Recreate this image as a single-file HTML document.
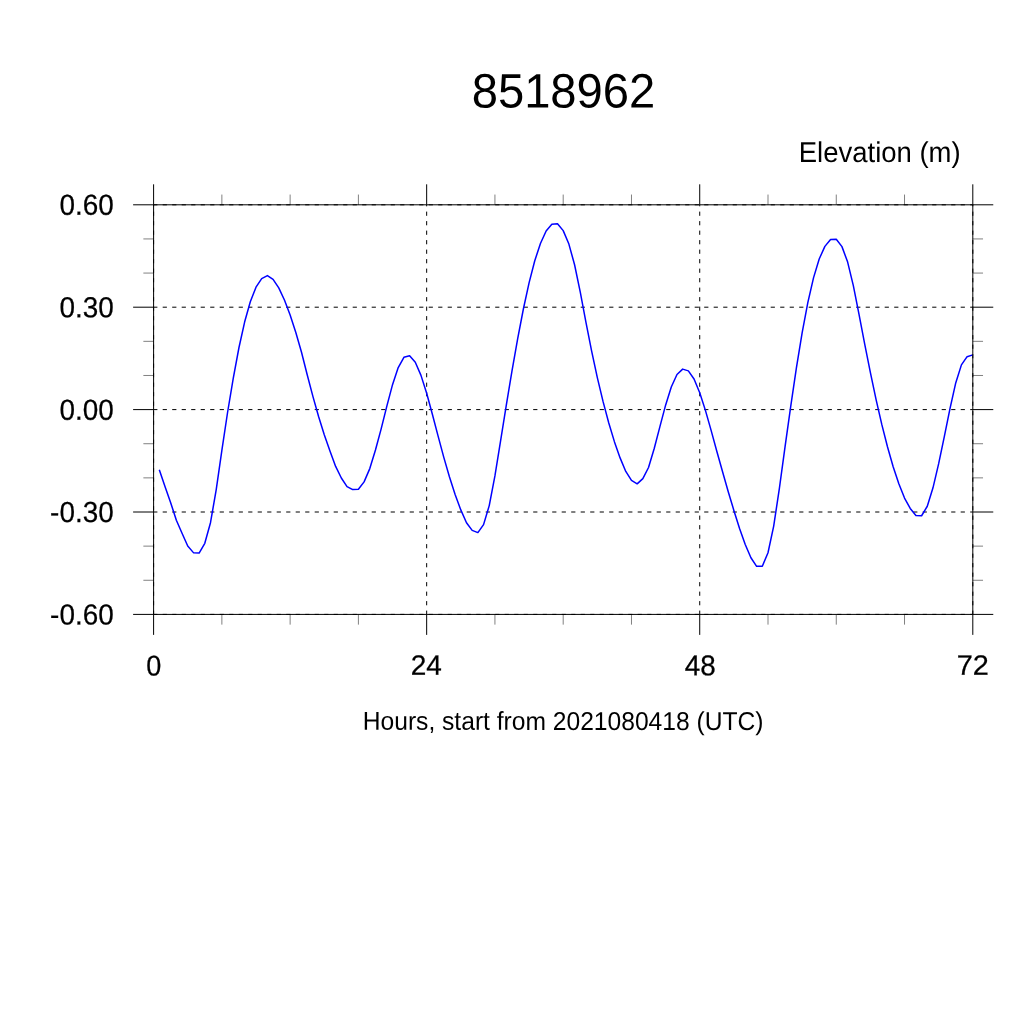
<!DOCTYPE html>
<html><head><meta charset="utf-8"><title>8518962</title>
<style>svg{will-change:transform;}html,body{margin:0;padding:0;background:#fff;width:1024px;height:1024px;overflow:hidden;}svg{display:block;position:absolute;left:0;top:0;}text{font-family:"Liberation Sans",sans-serif;fill:#000;text-rendering:geometricPrecision;}</style>
</head><body>
<svg width="1024" height="1024" viewBox="0 0 1024 1024">
<rect x="0" y="0" width="1024" height="1024" fill="#ffffff"/>
<path d="M153.60 204.80H972.80M153.60 307.20H972.80M153.60 409.60H972.80M153.60 512.00H972.80M153.60 614.40H972.80M153.60 614.40V204.80M426.67 614.40V204.80M699.73 614.40V204.80M972.80 614.40V204.80" fill="none" stroke="#000" stroke-width="1.0" stroke-dasharray="4.2 5.3" stroke-dashoffset="0.4"/>
<path d="M159.29 469.68L164.98 486.50L170.67 502.70L176.36 520.20L182.04 533.27L187.73 546.06L193.42 552.63L199.11 553.10L204.80 543.26L210.49 522.71L216.18 489.87L221.87 450.38L227.56 412.51L233.24 378.30L238.93 347.74L244.62 322.07L250.31 301.76L256.00 287.21L261.69 278.60L267.38 275.59L273.07 279.38L278.76 287.89L284.44 300.05L290.13 315.04L295.82 332.43L301.51 352.27L307.20 374.72L312.89 396.35L318.58 416.52L324.27 434.76L329.96 451.08L335.64 466.40L341.33 478.02L347.02 486.60L352.71 489.59L358.40 489.30L364.09 481.88L369.78 468.58L375.47 449.97L381.16 428.91L386.84 406.09L392.53 384.64L398.22 367.53L403.91 357.30L409.60 355.81L415.29 362.28L420.98 375.39L426.67 393.28L432.36 414.18L438.04 435.85L443.73 457.12L449.42 476.75L455.11 494.49L460.80 509.93L466.49 522.71L472.18 530.42L477.87 532.58L483.56 524.59L489.24 505.61L494.93 475.91L500.62 440.74L506.31 405.06L512.00 370.88L517.69 338.70L523.38 309.01L529.07 282.93L534.76 260.76L540.44 243.45L546.13 230.94L551.82 224.27L557.51 223.73L563.20 230.61L568.89 244.08L574.58 264.73L580.27 292.08L585.96 322.35L591.64 351.20L597.33 377.61L603.02 401.43L608.71 422.70L614.40 441.63L620.09 457.91L625.78 471.42L631.47 480.43L637.16 483.83L642.84 478.62L648.53 467.53L654.22 448.54L659.91 426.59L665.60 405.16L671.29 387.04L676.98 374.56L682.67 369.10L688.36 370.85L694.04 379.00L699.73 392.82L705.42 410.36L711.11 430.35L716.80 451.22L722.49 471.45L728.18 491.46L733.87 510.42L739.56 528.50L745.24 544.42L750.93 557.77L756.62 566.36L762.31 566.27L768.00 552.75L773.69 526.04L779.38 488.44L785.07 446.68L790.76 406.04L796.44 367.71L802.13 332.83L807.82 302.59L813.51 277.87L819.20 259.01L824.89 246.39L830.58 239.43L836.27 239.31L841.96 246.62L847.64 262.09L853.33 285.67L859.02 314.34L864.71 344.07L870.40 372.71L876.09 399.57L881.78 424.42L887.47 446.79L893.16 466.71L898.84 483.75L904.53 498.08L910.22 508.41L915.91 515.43L921.60 515.76L927.29 506.26L932.98 487.82L938.67 463.68L944.36 436.47L950.04 408.41L955.73 382.94L961.42 364.89L967.11 356.68L972.80 354.85" fill="none" stroke="#0000ff" stroke-width="1.5" stroke-linejoin="round"/>
<rect x="153.6" y="204.8" width="819.20" height="409.60" fill="none" stroke="#000" stroke-width="1.0"/>
<path d="M153.60 614.40v20.48M153.60 204.80v-20.48M153.60 204.80h-20.48M972.80 204.80h20.48M153.60 307.20h-20.48M972.80 307.20h20.48M426.67 614.40v20.48M426.67 204.80v-20.48M153.60 409.60h-20.48M972.80 409.60h20.48M699.73 614.40v20.48M699.73 204.80v-20.48M153.60 512.00h-20.48M972.80 512.00h20.48M972.80 614.40v20.48M972.80 204.80v-20.48M153.60 614.40h-20.48M972.80 614.40h20.48" fill="none" stroke="#000" stroke-width="1.0"/>
<path d="M221.87 614.40v10.24M221.87 204.80v-10.24M153.60 238.93h-10.24M972.80 238.93h10.24M290.13 614.40v10.24M290.13 204.80v-10.24M153.60 273.07h-10.24M972.80 273.07h10.24M358.40 614.40v10.24M358.40 204.80v-10.24M153.60 341.33h-10.24M972.80 341.33h10.24M494.93 614.40v10.24M494.93 204.80v-10.24M153.60 375.47h-10.24M972.80 375.47h10.24M563.20 614.40v10.24M563.20 204.80v-10.24M631.47 614.40v10.24M631.47 204.80v-10.24M153.60 443.73h-10.24M972.80 443.73h10.24M153.60 477.87h-10.24M972.80 477.87h10.24M768.00 614.40v10.24M768.00 204.80v-10.24M836.27 614.40v10.24M836.27 204.80v-10.24M153.60 546.13h-10.24M972.80 546.13h10.24M904.53 614.40v10.24M904.53 204.80v-10.24M153.60 580.27h-10.24M972.80 580.27h10.24" fill="none" stroke="#000" stroke-width="0.5"/>
<text transform="rotate(0.03 563.4 107.5) translate(471.70 107.50) scale(0.9783 1)" font-size="48.2">8518962</text>
<text transform="rotate(0.03 880.0 162.0) translate(798.74 162.00) scale(0.9582 1)" font-size="28.7">Elevation (m)</text>
<text transform="rotate(0.03 86.5 214.9) translate(59.46 214.85) scale(0.9607 1)" font-size="29.0" stroke="#000" stroke-width="0.25">0.60</text>
<text transform="rotate(0.03 86.5 317.2) translate(59.46 317.25) scale(0.9607 1)" font-size="29.0" stroke="#000" stroke-width="0.25">0.30</text>
<text transform="rotate(0.03 86.5 419.7) translate(59.46 419.65) scale(0.9607 1)" font-size="29.0" stroke="#000" stroke-width="0.25">0.00</text>
<text transform="rotate(0.03 81.9 522.0) translate(50.12 522.05) scale(0.9608 1)" font-size="29.0" stroke="#000" stroke-width="0.25">-0.30</text>
<text transform="rotate(0.03 81.9 624.4) translate(50.12 624.45) scale(0.9608 1)" font-size="29.0" stroke="#000" stroke-width="0.25">-0.60</text>
<text transform="rotate(0.03 153.7 675.5) translate(146.18 675.45) scale(0.9404 1)" font-size="28.8" stroke="#000" stroke-width="0.25">0</text>
<text transform="rotate(0.03 426.6 674.6) translate(410.75 674.65) scale(0.9971 1)" font-size="28.1" stroke="#000" stroke-width="0.25">24</text>
<text transform="rotate(0.03 700.0 675.2) translate(684.77 675.25) scale(0.9747 1)" font-size="28.6" stroke="#000" stroke-width="0.25">48</text>
<text transform="rotate(0.03 972.7 674.6) translate(956.66 674.65) scale(1.0274 1)" font-size="28.1" stroke="#000" stroke-width="0.25">72</text>
<text transform="rotate(0.03 563.4 729.9) translate(362.73 729.90) scale(0.9540 1)" font-size="25.8">Hours, start from 2021080418 (UTC)</text>
</svg></body></html>
